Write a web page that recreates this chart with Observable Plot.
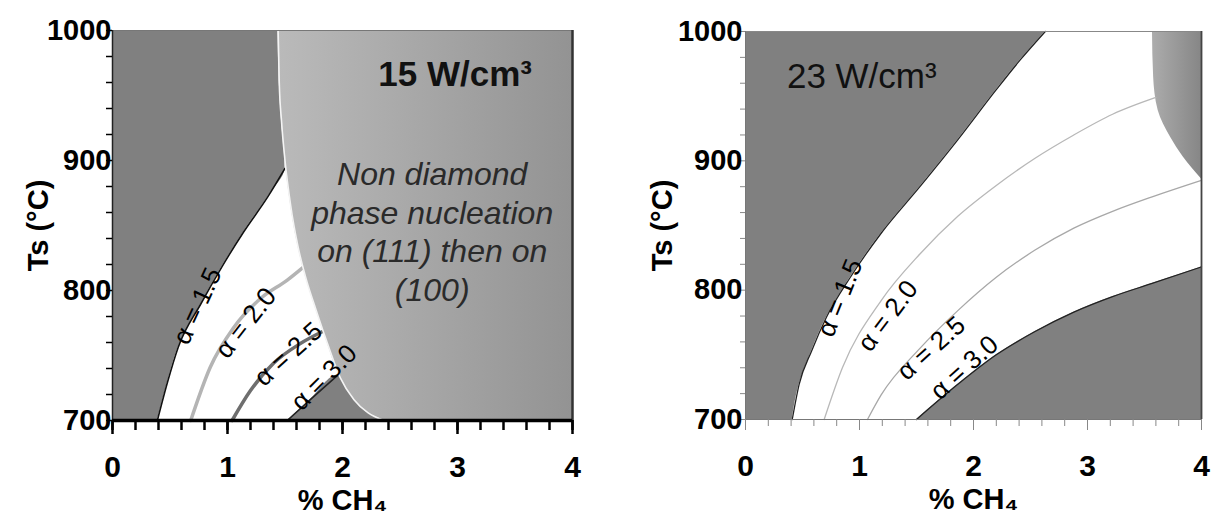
<!DOCTYPE html>
<html><head><meta charset="utf-8">
<script src="https://cdn.jsdelivr.net/npm/d3@7"></script>
<script src="https://cdn.jsdelivr.net/npm/@observablehq/plot@0.6"></script>
<style>
body{margin:0;background:#fff;}
#wrap{display:flex;width:1216px;height:521px;overflow:hidden;}
#wrap svg{display:block;flex:none;}
</style></head><body><div id="wrap"></div>
<script>
// ---------- axis ticks ----------
const xTickLabels = [0, 1, 2, 3, 4];
const xMinorTicks = [0,0.2,0.4,0.6,0.8,1,1.2,1.4,1.6,1.8,2,2.2,2.4,2.6,2.8,3,3.2,3.4,3.6,3.8,4];
const yTickLabels = [700, 800, 900, 1000];
const yMinorTicks = [700,720,740,760,780,800,820,840,860,880,900,920,940,960,980,1000];
const xTitle = "% CH₄";
const yTitle = "Ts (°C)";

// ---------- left panel (15 W/cm3) ----------
const L_a15_x = [0.39, 0.48, 0.57, 0.77, 0.95, 1.14, 1.35, 1.50];
const L_a15_T = [700, 730, 756, 790, 818, 845, 872, 894];
const L_a20_x = [0.68, 0.85, 1.05, 1.29, 1.52, 1.66];
const L_a20_T = [700, 741, 771, 794, 808, 818];
const L_a25_x = [1.04, 1.20, 1.40, 1.63, 1.84];
const L_a25_T = [700, 723, 744, 759, 769];
const L_a30_x = [1.52, 1.72, 1.96];
const L_a30_T = [700, 716, 735];
const L_bound_x = [1.44, 1.45, 1.47, 1.50, 1.55, 1.61, 1.68, 1.77, 1.87, 1.98, 2.10, 2.22, 2.36];
const L_bound_T = [1000, 960, 930, 900, 865, 835, 810, 785, 759, 733, 716, 706, 700];
const L_labels = ["α = 1.5", "α = 2.0", "α = 2.5", "α = 3.0"];
const L_label_x = [0.74, 1.16, 1.53, 1.84];
const L_label_T = [788, 775, 751, 733];
const L_title = ["15 W/cm³"];
const L_title_x = [2.98];
const L_title_T = [966];
const L_note = ["Non diamond\nphase nucleation\non (111) then on\n(100)"];
const L_note_x = [2.78];
const L_note_T = [846];

// ---------- right panel (23 W/cm3) ----------
const R_a15_x = [0.41, 0.47, 0.58, 0.71, 0.92, 1.19, 1.53, 1.86, 2.20, 2.41, 2.63];
const R_a15_T = [700, 727, 753, 779, 810, 844, 880, 916, 955, 978, 1000];
const R_a20_x = [0.69, 0.85, 1.19, 1.53, 1.86, 2.20, 2.54, 2.88, 3.22, 3.60];
const R_a20_T = [700, 740, 792, 828, 857, 881, 902, 920, 936, 949];
const R_a25_x = [1.07, 1.19, 1.53, 1.86, 2.20, 2.54, 2.88, 3.22, 3.56, 4.0];
const R_a25_T = [700, 719, 755, 784, 810, 831, 848, 861, 872, 885];
const R_a30_x = [1.50, 1.86, 2.20, 2.54, 2.88, 3.22, 3.56, 4.0];
const R_a30_T = [700, 727, 750, 768, 783, 795, 805, 818];
const R_corner_x = [4.0, 3.84, 3.73, 3.62, 3.58, 3.57];
const R_corner_T = [886, 903, 918, 939, 965, 1000];
const R_labels = ["α = 1.5", "α = 2.0", "α = 2.5", "α = 3.0"];
const R_label_x = [0.83, 1.25, 1.63, 1.92];
const R_label_T = [794, 780, 755, 740];
const R_title = ["23 W/cm³"];
const R_title_x = [1.02];
const R_title_T = [965];

// ---------- styles ----------
const FONT = "'Liberation Sans', Arial, Helvetica, sans-serif";
const DARK = "#808080";
const L_rot = [-65, -52, -42, -45];
const R_rot = [-68, -53, -42, -42];

const rows = (xs, Ts) => xs.map((x, i) => ({x, T: Ts[i]}));

function gradient(id, c0, c1) {
  return () => {
    const ns = "http://www.w3.org/2000/svg";
    const defs = document.createElementNS(ns, "defs");
    const g = document.createElementNS(ns, "linearGradient");
    g.setAttribute("id", id);
    g.setAttribute("x1", "0"); g.setAttribute("x2", "1");
    g.setAttribute("y1", "0"); g.setAttribute("y2", "0");
    [[0, c0], [1, c1]].forEach(([o, c]) => {
      const s = document.createElementNS(ns, "stop");
      s.setAttribute("offset", o); s.setAttribute("stop-color", c);
      g.appendChild(s);
    });
    defs.appendChild(g);
    return defs;
  };
}

function labelMarks(labels, xs, Ts, rot, size) {
  const d = labels.map((t, i) => ({t, x: xs[i], T: Ts[i], r: rot[i]}));
  return Plot.text(d, {x: "x", y: "T", text: "t", rotate: "r", fontSize: size, fill: "black"});
}

function titleMark(texts, xs, Ts, opts) {
  const d = texts.map((t, i) => ({t, x: xs[i], T: Ts[i]}));
  return Plot.text(d, {x: "x", y: "T", text: "t", ...opts});
}

const fmt = d => String(d);

function axisMarks(ink, tickW, minorLen, yMinorLen, labelPad, yTitleDx, yLabelPad) {
  return [
    Plot.axisX({ticks: xMinorTicks, tickSize: minorLen, stroke: ink, strokeWidth: tickW, fill: "none", label: null}),
    Plot.axisX({ticks: xTickLabels, tickSize: minorLen + 4, stroke: ink, strokeWidth: tickW, fill: "none", label: null}),
    Plot.axisX({ticks: xTickLabels, tickSize: 0, tickPadding: labelPad, tickFormat: fmt, fontSize: 30, fontWeight: "bold", fill: "black", label: null}),
    Plot.axisY({ticks: yMinorTicks, tickSize: yMinorLen, stroke: ink, strokeWidth: Math.min(tickW, 1.5), fill: "none", label: null}),
    Plot.axisY({ticks: yTickLabels, tickSize: 0, tickPadding: yLabelPad, tickFormat: fmt, fontSize: 29, fontWeight: "bold", fill: "black", label: null}),
    Plot.text([yTitle], {frameAnchor: "left", dx: yTitleDx, rotate: -90, textAnchor: "middle", lineAnchor: "middle", fontSize: 29, fontWeight: "bold", fill: "black"}),
    Plot.text([xTitle], {frameAnchor: "bottom", dy: 80, textAnchor: "middle", lineAnchor: "middle", fontSize: 29, fontWeight: "bold", fill: "black"})
  ];
}

// left panel data tables
const Lbound = rows(L_bound_x, L_bound_T);
const LboundUp = Lbound.slice().reverse();
const darkL = rows(L_a15_x, L_a15_T).concat(Lbound.filter(d => d.T > 895).reverse());
const darkTri = rows(L_a30_x, L_a30_T).concat(Lbound.filter(d => d.T < 735));

const left = Plot.plot({
  width: 608, height: 521,
  marginLeft: 112, marginRight: 36, marginTop: 30, marginBottom: 101,
  x: {domain: [0, 4], label: null},
  y: {domain: [700, 1000], label: null},
  style: {fontFamily: FONT, background: "transparent", overflow: "visible"},
  marks: [
    gradient("gradL", "#bababa", "#939393"),
    Plot.frame({fill: "white", stroke: "none"}),
    Plot.areaX(darkL, {y: "T", x1: 0, x2: "x", fill: DARK, curve: "monotone-y"}),
    Plot.areaY(darkTri, {x: "x", y1: 700, y2: "T", fill: DARK, curve: "monotone-x"}),
    Plot.line(rows(L_a20_x, L_a20_T), {x: "x", y: "T", stroke: "#b4b4b4", strokeWidth: 3.5, curve: "monotone-x"}),
    Plot.line(rows(L_a25_x, L_a25_T), {x: "x", y: "T", stroke: "#6e6e6e", strokeWidth: 3.5, curve: "monotone-x"}),
    Plot.line(rows(L_a15_x, L_a15_T), {x: "x", y: "T", stroke: "#111", strokeWidth: 1.6, curve: "monotone-x"}),
    Plot.line(rows(L_a30_x, L_a30_T), {x: "x", y: "T", stroke: "#222", strokeWidth: 1.6, curve: "monotone-x"}),
    Plot.areaX(LboundUp, {y: "T", x1: "x", x2: 4, fill: "url(#gradL)", curve: "monotone-y"}),
    Plot.line(Lbound, {x: "x", y: "T", stroke: "#f4f4f4", strokeWidth: 1.6, curve: "monotone-x"}),
    labelMarks(L_labels, L_label_x, L_label_T, L_rot, 26),
    titleMark(L_title, L_title_x, L_title_T, {fontSize: 35, fontWeight: "bold", fill: "#111"}),
    titleMark(L_note, L_note_x, L_note_T, {fontSize: 32, fontStyle: "italic", fill: "#2a2a2a", lineHeight: 1.2}),
    Plot.ruleY([1000], {stroke: "#777", strokeWidth: 1.2}),
    Plot.ruleX([4], {stroke: "#333", strokeWidth: 2.5}),
    Plot.ruleX([0], {stroke: "#222", strokeWidth: 1.5}),
    ...axisMarks("black", 2.5, 10, 6, 35, -74, 1),
    Plot.ruleY([700], {stroke: "black", strokeWidth: 3.5})
  ]
});

const right = Plot.plot({
  width: 608, height: 521,
  marginLeft: 137, marginRight: 15, marginTop: 31, marginBottom: 102,
  x: {domain: [0, 4], label: null},
  y: {domain: [700, 1000], label: null},
  style: {fontFamily: FONT, background: "transparent", overflow: "visible"},
  marks: [
    gradient("gradR", "#acacac", "#868686"),
    Plot.frame({fill: "white", stroke: "none"}),
    Plot.areaX(rows(R_a15_x, R_a15_T), {y: "T", x1: 0, x2: "x", fill: DARK, curve: "monotone-y"}),
    Plot.areaY(rows(R_a30_x, R_a30_T), {x: "x", y1: 700, y2: "T", fill: DARK, curve: "monotone-x"}),
    Plot.areaX(rows(R_corner_x, R_corner_T), {y: "T", x1: "x", x2: 4, fill: "url(#gradR)", curve: "monotone-y"}),
    Plot.line(rows(R_a20_x, R_a20_T), {x: "x", y: "T", stroke: "#b8b8b8", strokeWidth: 1.3, curve: "monotone-x"}),
    Plot.line(rows(R_a25_x, R_a25_T), {x: "x", y: "T", stroke: "#a8a8a8", strokeWidth: 1.3, curve: "monotone-x"}),
    Plot.line(rows(R_a15_x, R_a15_T), {x: "x", y: "T", stroke: "#222", strokeWidth: 1.3, curve: "monotone-x"}),
    Plot.line(rows(R_a30_x, R_a30_T), {x: "x", y: "T", stroke: "#222", strokeWidth: 1.3, curve: "monotone-x"}),
    labelMarks(R_labels, R_label_x, R_label_T, R_rot, 26),
    titleMark(R_title, R_title_x, R_title_T, {fontSize: 35, fill: "#111"}),
    Plot.ruleY([1000], {stroke: "#888", strokeWidth: 1}),
    Plot.ruleX([4], {stroke: "#444", strokeWidth: 1.8}),
    Plot.ruleX([0], {stroke: "#777", strokeWidth: 1}),
    Plot.ruleY([700], {stroke: "#777", strokeWidth: 1}),
    ...axisMarks("#888", 1, 7, 5, 35, -83, 3)
  ]
});

document.getElementById("wrap").append(left, right);
</script>
</body></html>
